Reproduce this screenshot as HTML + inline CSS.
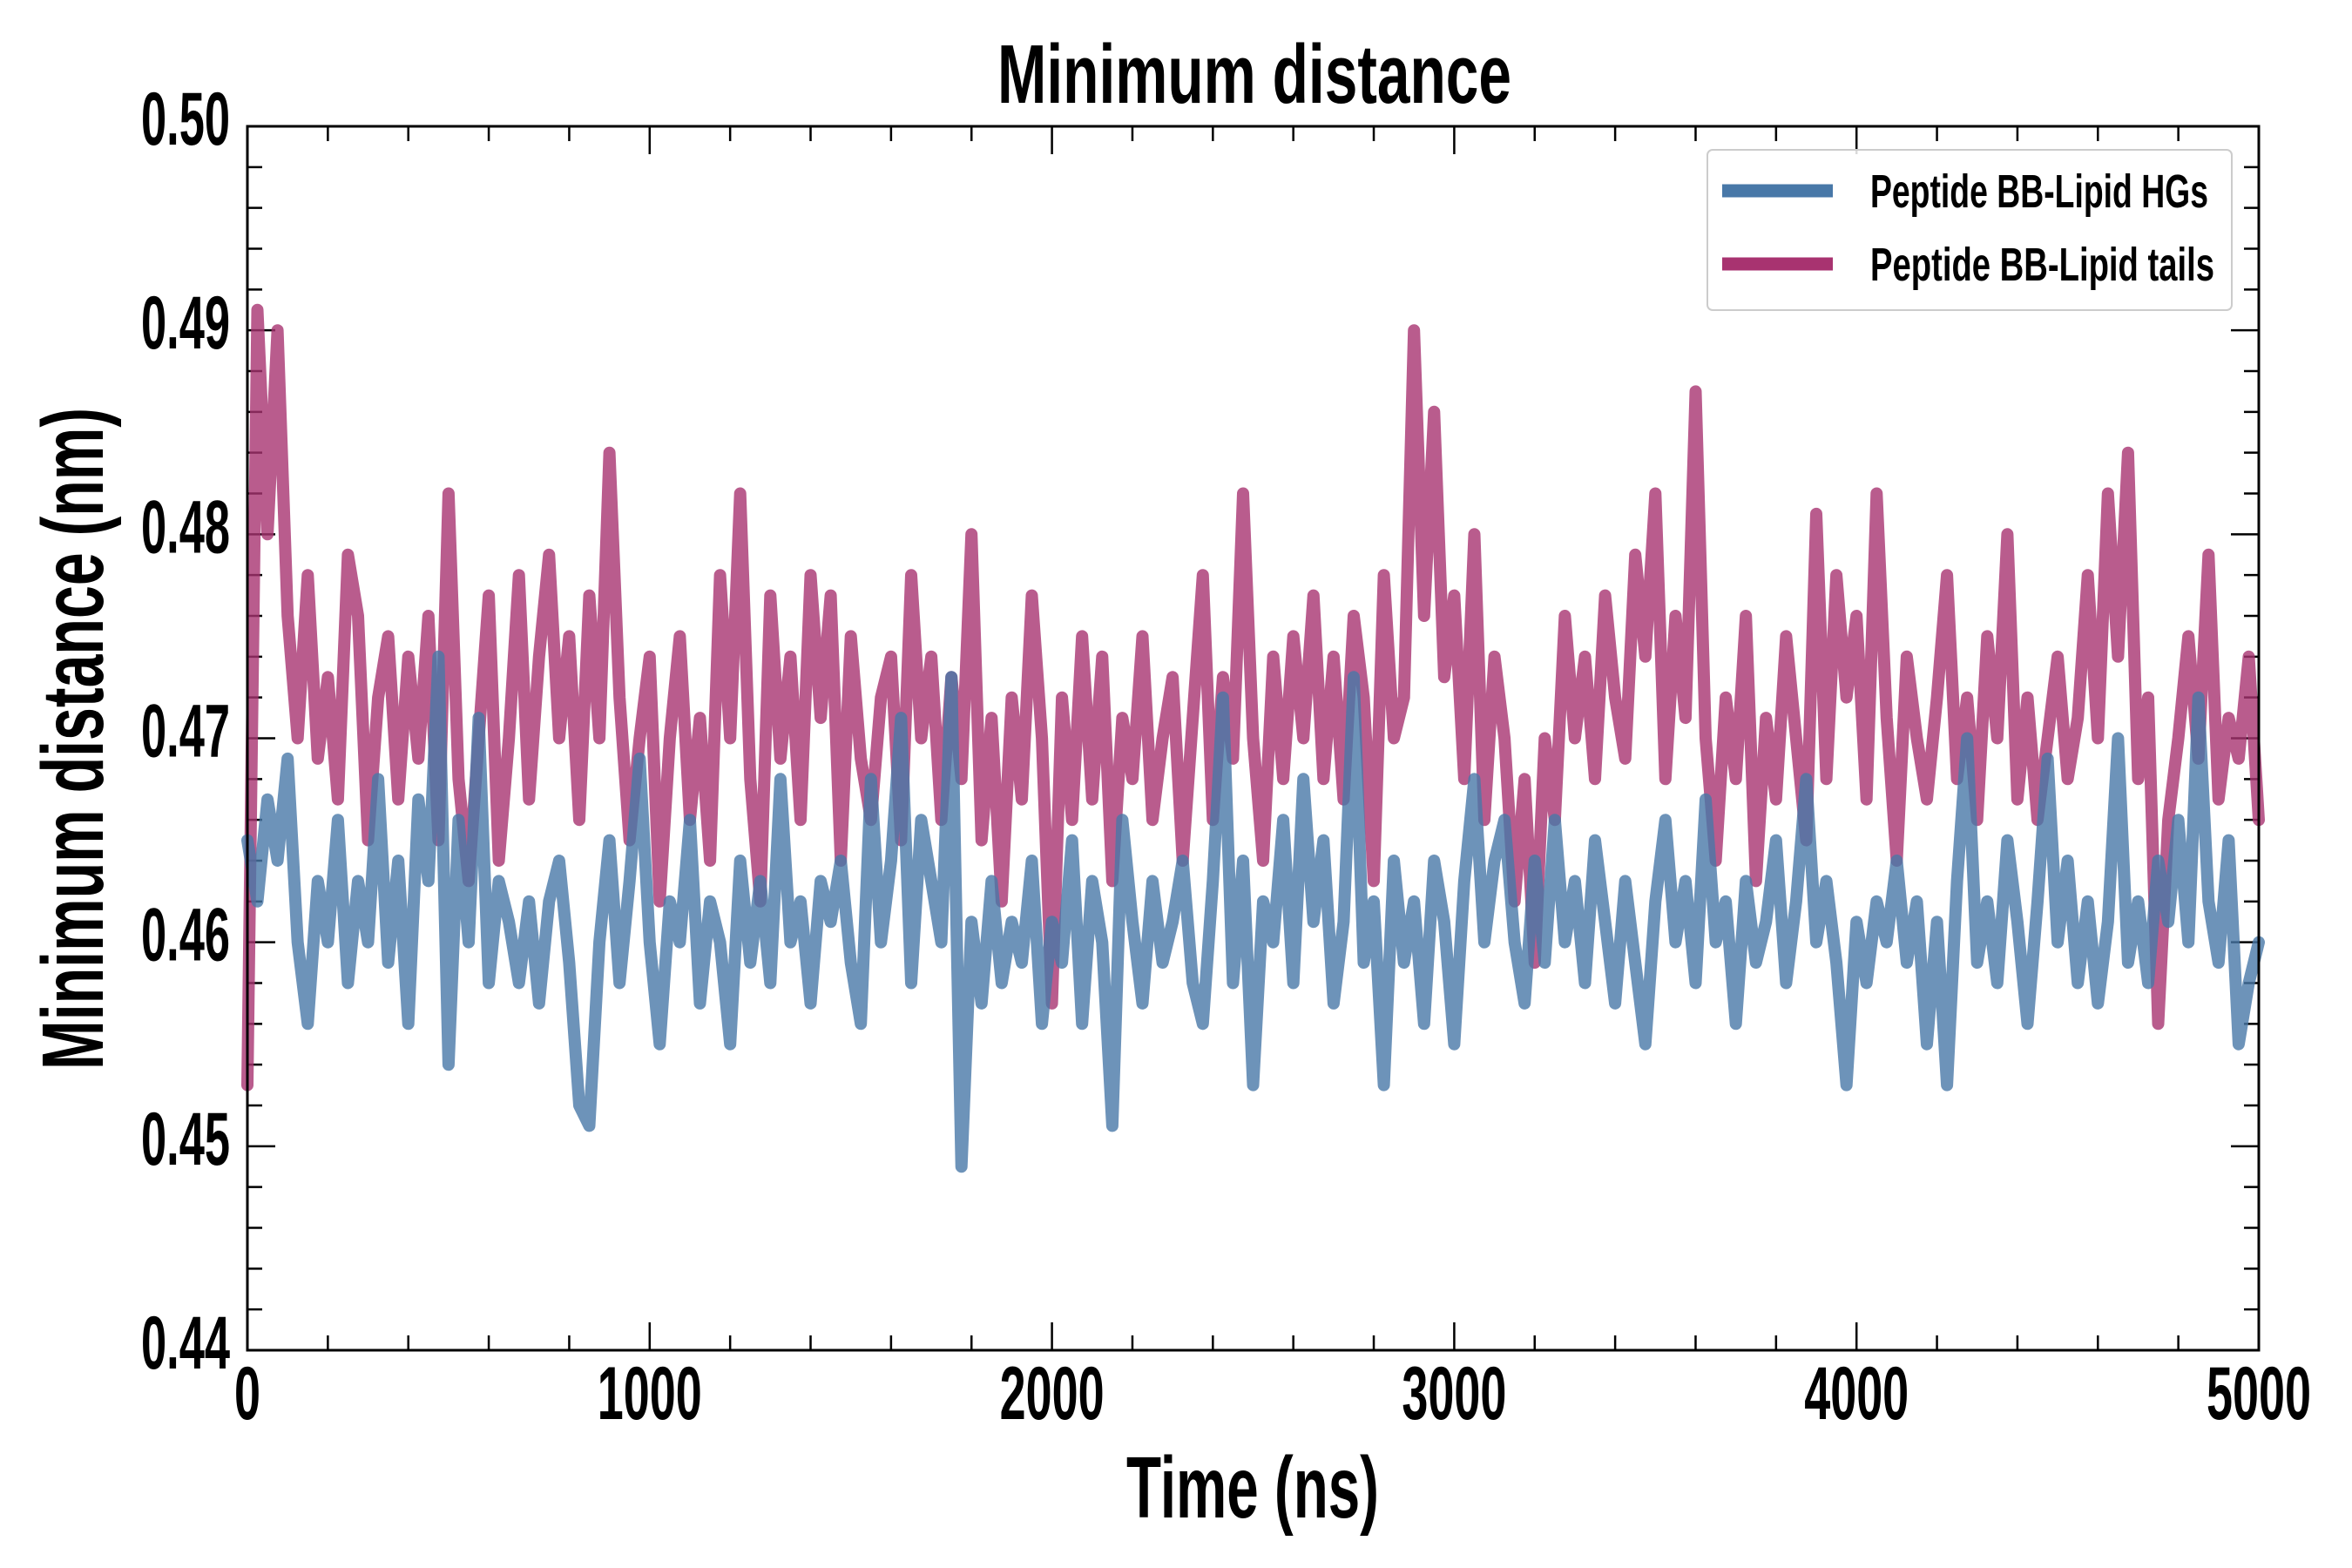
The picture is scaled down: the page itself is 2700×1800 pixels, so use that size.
<!DOCTYPE html>
<html><head><meta charset="utf-8"><style>
html,body{margin:0;padding:0;background:#fff;}
svg{display:block;}
text{font-family:"Liberation Sans Narrow","Liberation Sans",sans-serif;font-weight:bold;fill:#000;}
</style></head><body>
<svg id="chart" width="2700" height="1800" viewBox="0 0 2700 1800">
<text x="1440" y="118" text-anchor="middle" font-size="96" textLength="590" lengthAdjust="spacingAndGlyphs">Minimum distance</text>
<text x="1438" y="1742" text-anchor="middle" font-size="100" textLength="290" lengthAdjust="spacingAndGlyphs">Time (ns)</text>
<text transform="translate(118,848) rotate(-90)" text-anchor="middle" font-size="100" textLength="760" lengthAdjust="spacingAndGlyphs">Minimum distance (nm)</text>
<g id="ticks"></g>
<g id="series"></g>
<rect x="284" y="145" width="2309" height="1405" fill="none" stroke="#000" stroke-width="3"/>
<g>
<rect x="1960" y="172" width="602" height="184" rx="6" fill="#fff" fill-opacity="0.85" stroke="#ccc" stroke-width="2"/>
<line x1="1977" y1="219" x2="2104" y2="219" stroke="#4878a8" stroke-width="15"/>
<text x="2147" y="238" font-size="54" textLength="388" lengthAdjust="spacingAndGlyphs">Peptide BB-Lipid HGs</text>
<line x1="1977" y1="303" x2="2104" y2="303" stroke="#a83370" stroke-width="15"/>
<text x="2147" y="322" font-size="54" textLength="395" lengthAdjust="spacingAndGlyphs">Peptide BB-Lipid tails</text>
</g>
</svg>
<script>
const timesStep = 25;
const tailsValues = [0.453,0.491,0.480,0.490,0.476,0.470,0.478,0.469,0.473,0.467,0.479,0.476,0.465,0.472,0.475,0.467,0.474,0.469,0.476,0.465,0.482,0.468,0.463,0.470,0.477,0.464,0.470,0.478,0.467,0.474,0.479,0.470,0.475,0.466,0.477,0.470,0.484,0.472,0.465,0.470,0.474,0.462,0.470,0.475,0.466,0.471,0.464,0.478,0.470,0.482,0.468,0.462,0.477,0.469,0.474,0.466,0.478,0.471,0.477,0.464,0.475,0.469,0.466,0.472,0.474,0.465,0.478,0.470,0.474,0.466,0.473,0.468,0.480,0.465,0.471,0.462,0.472,0.467,0.477,0.470,0.457,0.472,0.466,0.475,0.467,0.474,0.463,0.471,0.468,0.475,0.466,0.470,0.473,0.464,0.471,0.478,0.466,0.473,0.469,0.482,0.470,0.464,0.474,0.468,0.475,0.470,0.477,0.468,0.474,0.467,0.476,0.472,0.463,0.478,0.470,0.472,0.490,0.476,0.486,0.473,0.477,0.468,0.480,0.466,0.474,0.470,0.462,0.468,0.459,0.470,0.466,0.476,0.470,0.474,0.468,0.477,0.472,0.469,0.479,0.474,0.482,0.468,0.476,0.471,0.487,0.470,0.464,0.472,0.468,0.476,0.463,0.471,0.467,0.475,0.470,0.465,0.481,0.468,0.478,0.472,0.476,0.467,0.482,0.471,0.464,0.474,0.470,0.467,0.472,0.478,0.468,0.472,0.466,0.475,0.470,0.480,0.467,0.472,0.466,0.470,0.474,0.468,0.471,0.478,0.470,0.482,0.474,0.484,0.468,0.472,0.456,0.466,0.470,0.475,0.469,0.479,0.467,0.471,0.469,0.474,0.466];
const hgsValues = [0.465,0.462,0.467,0.464,0.469,0.460,0.456,0.463,0.460,0.466,0.458,0.463,0.460,0.468,0.459,0.464,0.456,0.467,0.463,0.474,0.454,0.466,0.460,0.471,0.458,0.463,0.461,0.458,0.462,0.457,0.462,0.464,0.459,0.452,0.451,0.460,0.465,0.458,0.463,0.469,0.460,0.455,0.462,0.460,0.466,0.457,0.462,0.460,0.455,0.464,0.459,0.463,0.458,0.468,0.460,0.462,0.457,0.463,0.461,0.464,0.459,0.456,0.468,0.460,0.464,0.471,0.458,0.466,0.463,0.460,0.473,0.449,0.461,0.457,0.463,0.458,0.461,0.459,0.464,0.456,0.461,0.459,0.465,0.456,0.463,0.460,0.451,0.466,0.461,0.457,0.463,0.459,0.461,0.464,0.458,0.456,0.463,0.472,0.458,0.464,0.453,0.462,0.460,0.466,0.458,0.468,0.461,0.465,0.457,0.461,0.473,0.459,0.462,0.453,0.464,0.459,0.462,0.456,0.464,0.461,0.455,0.463,0.468,0.460,0.464,0.466,0.460,0.457,0.464,0.459,0.466,0.460,0.463,0.458,0.465,0.461,0.457,0.463,0.459,0.455,0.462,0.466,0.460,0.463,0.458,0.467,0.460,0.462,0.456,0.463,0.459,0.461,0.465,0.458,0.462,0.468,0.460,0.463,0.459,0.453,0.461,0.458,0.462,0.460,0.464,0.459,0.462,0.455,0.461,0.453,0.463,0.470,0.459,0.462,0.458,0.465,0.461,0.456,0.462,0.469,0.460,0.464,0.458,0.462,0.457,0.461,0.470,0.459,0.462,0.458,0.464,0.461,0.466,0.460,0.472,0.462,0.459,0.465,0.455,0.458,0.460];
const xTickLabels = ["0","1000","2000","3000","4000","5000"];
const yTickLabels = ["0.44","0.45","0.46","0.47","0.48","0.49","0.50"];

const NS="http://www.w3.org/2000/svg";
const L=284,R=2593,T=145,B=1550;
const xMin=0,xMax=5000,yMin=0.44,yMax=0.50;
function xs(v){return L+(v-xMin)/(xMax-xMin)*(R-L);}
function ys(v){return B-(v-yMin)/(yMax-yMin)*(B-T);}
const tg=document.getElementById('ticks');
function ln(x1,y1,x2,y2,w){const e=document.createElementNS(NS,'line');e.setAttribute('x1',x1);e.setAttribute('y1',y1);e.setAttribute('x2',x2);e.setAttribute('y2',y2);e.setAttribute('stroke','#000');e.setAttribute('stroke-width',w);


tg.appendChild(e);}
for(let v=0;v<=5000;v+=200){const x=xs(v);const maj=v%1000===0;const len=maj?32:17;ln(x,B,x,B-len,2.5);ln(x,T,x,T+len,2.5);}
for(let i=0;i<=30;i++){const v=yMin+i*0.002;const y=ys(v);const maj=i%5===0;const len=maj?32:17;ln(L,y,L+len,y,2.5);ln(R,y,R-len,y,2.5);}
xTickLabels.forEach(s=>{const t=document.createElementNS(NS,'text');t.setAttribute('x',xs(parseFloat(s)));t.setAttribute('y',B+79);t.setAttribute('text-anchor','middle');t.setAttribute('font-size','86');t.setAttribute('textLength',30*s.length);t.setAttribute('lengthAdjust','spacingAndGlyphs');t.textContent=s;


tg.appendChild(t);});
yTickLabels.forEach(s=>{const t=document.createElementNS(NS,'text');t.setAttribute('x',264);t.setAttribute('y',ys(parseFloat(s))+21);t.setAttribute('text-anchor','end');t.setAttribute('font-size','86');t.setAttribute('textLength','102');t.setAttribute('lengthAdjust','spacingAndGlyphs');t.textContent=s;


tg.appendChild(t);});
const sg=document.getElementById('series');
function drawSeries(vals,color,name){const pts=vals.map((v,i)=>xs(i*timesStep).toFixed(1)+','+ys(v).toFixed(1)).join(' ');const p=document.createElementNS(NS,'polyline');p.setAttribute('points',pts);p.setAttribute('fill','none');p.setAttribute('stroke',color);p.setAttribute('stroke-opacity','0.8');p.setAttribute('stroke-width','14');p.setAttribute('stroke-linejoin','round');p.setAttribute('stroke-linecap','round');


sg.appendChild(p);}
drawSeries(tailsValues,'#a83370','series-lipid-tails');
drawSeries(hgsValues,'#4878a8','series-lipid-hgs');
</script>
</body></html>
